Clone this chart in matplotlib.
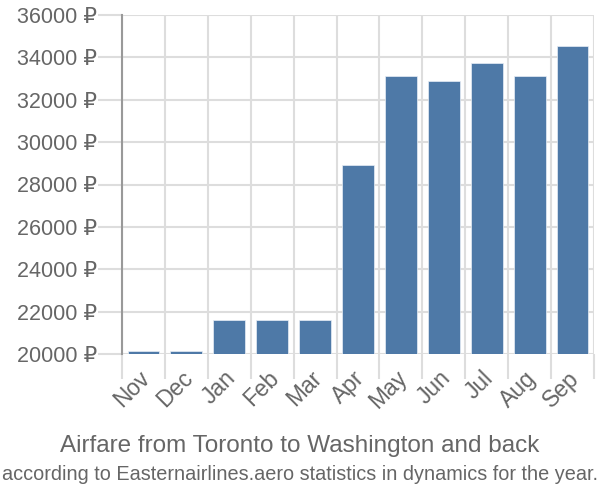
import matplotlib
matplotlib.use('Agg')
import numpy as np
import matplotlib.pyplot as plt
import matplotlib.transforms as mtransforms

plt.rcParams['font.family'] = ['Liberation Sans', 'DejaVu Sans']

months = ['Nov', 'Dec', 'Jan', 'Feb', 'Mar', 'Apr', 'May', 'Jun', 'Jul', 'Aug', 'Sep']
prices = [20150, 20150, 21620, 21620, 21620, 28900, 33100, 32900, 33750, 33100, 34520]
yticks = [20000, 22000, 24000, 26000, 28000, 30000, 32000, 34000, 36000]

txt = '#666666'
grid = '#dddddd'

fig = plt.figure(figsize=(6, 5), dpi=100)
ax = fig.add_axes([0.2033, 0.292, 0.7867, 0.678])

x = np.arange(len(months))
ax.bar(x, prices, width=0.74, color='#4e79a7', edgecolor='#e8eef6', linewidth=0.5, zorder=3)

ax.set_xlim(-0.5, len(months) - 0.5)
ax.set_ylim(20000, 36000)

# grid lines sit on category borders
ax.set_xticks(np.arange(len(months) + 1) - 0.5, minor=False)
ax.set_xticklabels([])
ax.set_xticks(x, minor=True)
ax.set_xticklabels(months, minor=True, rotation=45, ha='right', va='top',
                   rotation_mode='anchor', fontsize=16.5, color=txt)
ax.tick_params(axis='x', which='major', length=18, color=grid, width=1.5)
ax.tick_params(axis='x', which='minor', length=0, pad=9)
shift = mtransforms.ScaledTranslation(-5 / 100, 0, fig.dpi_scale_trans)
for lab in ax.get_xticklabels(minor=True):
    lab.set_transform(lab.get_transform() + shift)

ax.set_yticks(yticks)
ax.set_yticklabels([f'{v} ₽' for v in yticks], fontsize=15.5, color=txt)
ax.tick_params(axis='y', length=17, color=grid, width=1.5, pad=1)

ax.grid(True, which='major', color=grid, linewidth=1.5, zorder=0)
for s in ['top', 'right', 'bottom']:
    ax.spines[s].set_visible(False)
ax.spines['left'].set_color('#999999')
ax.spines['left'].set_linewidth(1.5)
ax.spines['left'].set_bounds(20000, 36000)

fig.text(0.5, 0.108, 'Airfare from Toronto to Washington and back', ha='center',
         va='center', fontsize=17.5, color=txt)
fig.text(0.5, 0.052, 'according to Easternairlines.aero statistics in dynamics for the year.',
         ha='center', va='center', fontsize=14.3, color=txt)

fig.savefig('out.png', dpi=100)
